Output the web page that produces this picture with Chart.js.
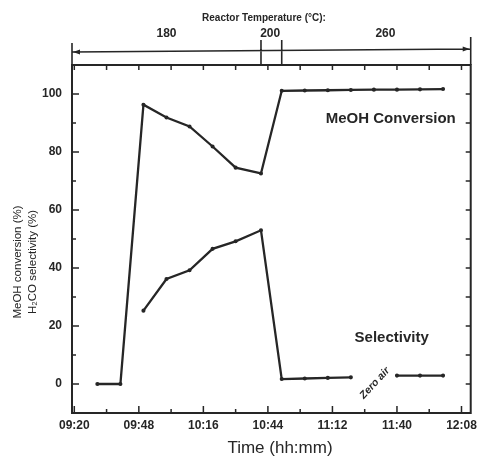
<!DOCTYPE html>
<html><head><meta charset="utf-8">
<script src="https://cdn.jsdelivr.net/npm/chart.js@4/dist/chart.umd.min.js"></script>
<style>html,body{margin:0;padding:0;background:#fff;}#wrap{width:482px;height:458px;}</style>
</head><body><div id="wrap"><canvas id="c" width="482" height="458"></canvas></div>
<script>
// time in minutes since 00:00
const times = [570,580,590,600,610,620,630,641,650,660,670,680,690,700,710,720];
const conversion = [0,0,96.3,91.9,88.8,81.9,74.6,72.6,101.1,101.2,101.3,101.4,101.5,101.5,101.6,101.7];
const selectivity = [null,null,25.3,36.2,39.2,46.6,49.2,53.0,1.7,1.9,2.1,2.3,null,2.9,2.9,2.9];
const xTickMinutes = [560,588,616,644,672,700,728];
const yTickValues = [0,20,40,60,80,100];
const tempLabels = ['180','200','260'];
const tempLabelMinutes = [600,645,695];
const tempBoxMinutes = [641,650];

const FONT = "'Liberation Sans', Arial, sans-serif";
const INK = '#262626';
const fmt = m => String(Math.floor(m/60)).padStart(2,'0') + ':' + String(m%60).padStart(2,'0');

const framePlugin = {
  id: 'frame',
  afterDraw(chart) {
    const {ctx, chartArea: a, scales: {x, y}} = chart;
    ctx.save();
    ctx.strokeStyle = INK; ctx.fillStyle = INK; ctx.lineWidth = 2;
    ctx.strokeRect(a.left, a.top, a.right - a.left, a.bottom - a.top);
    ctx.lineWidth = 1.5;
    ctx.beginPath();
    for (let m = 560; m <= 732; m += 14) {
      const px = x.getPixelForValue(m);
      const major = (m - 560) % 28 === 0;
      ctx.moveTo(px, a.bottom); ctx.lineTo(px, a.bottom - (major ? 7 : 4));
      ctx.moveTo(px, a.top); ctx.lineTo(px, a.top + 5);
    }
    for (let v = -10; v <= 110; v += 10) {
      const py = y.getPixelForValue(v);
      const major = v % 20 === 0;
      ctx.moveTo(a.left, py); ctx.lineTo(a.left + (major ? 7 : 4), py);
      ctx.moveTo(a.right, py); ctx.lineTo(a.right - 5, py);
    }
    ctx.stroke();

    // reactor temperature band
    const bandY = a.top - 14;
    ctx.lineWidth = 1.6;
    ctx.beginPath();
    ctx.moveTo(a.left, a.top - 22); ctx.lineTo(a.left, a.top);
    ctx.moveTo(a.right, a.top - 28); ctx.lineTo(a.right, a.top);
    ctx.moveTo(a.left, bandY + 1); ctx.lineTo(a.right, bandY - 2);
    const b0 = x.getPixelForValue(tempBoxMinutes[0]);
    const b1 = x.getPixelForValue(tempBoxMinutes[1]);
    ctx.moveTo(b0, a.top - 25); ctx.lineTo(b0, a.top);
    ctx.moveTo(b1, a.top - 25); ctx.lineTo(b1, a.top);
    ctx.stroke();
    ctx.beginPath();
    ctx.moveTo(a.left + 1, bandY + 1); ctx.lineTo(a.left + 8, bandY - 1.5); ctx.lineTo(a.left + 8, bandY + 3.5); ctx.closePath();
    ctx.moveTo(a.right - 1, bandY - 2); ctx.lineTo(a.right - 8, bandY - 4.5); ctx.lineTo(a.right - 8, bandY + 0.5); ctx.closePath();
    ctx.fill();

    ctx.textAlign = 'center'; ctx.textBaseline = 'middle';
    ctx.font = 'bold 10px ' + FONT;
    ctx.fillText('Reactor Temperature (°C):', 264, 18);
    ctx.font = 'bold 12px ' + FONT;
    tempLabels.forEach((t, i) => ctx.fillText(t, x.getPixelForValue(tempLabelMinutes[i]), a.top - 31));

    ctx.font = 'bold 15px ' + FONT;
    ctx.fillText('MeOH Conversion', x.getPixelForValue(697.3), y.getPixelForValue(91.3));
    ctx.fillText('Selectivity', x.getPixelForValue(697.7), y.getPixelForValue(15.9));
    ctx.save();
    ctx.translate(x.getPixelForValue(690.4), y.getPixelForValue(0.3));
    ctx.rotate(-47 * Math.PI / 180);
    ctx.font = 'bold italic 10.5px ' + FONT;
    ctx.fillText('Zero air', 0, 0);
    ctx.restore();

    ctx.font = '17px ' + FONT;
    ctx.fillText('Time (hh:mm)', 280, 448);
    ctx.save();
    ctx.translate(0, 262); ctx.rotate(-Math.PI / 2);
    ctx.font = '11.5px ' + FONT;
    ctx.fillText('MeOH conversion (%)', 0, 18);
    ctx.fillText('H\u2082CO selectivity (%)', 0, 33);
    ctx.restore();
    ctx.restore();
  }
};

const toPts = arr => times.map((t, i) => ({x: t, y: arr[i]}));
const lineStyle = {borderColor: INK, backgroundColor: INK, borderWidth: 2.3, pointRadius: 0.9, pointHoverRadius: 0.9, tension: 0, spanGaps: false};

new Chart(document.getElementById('c'), {
  type: 'line',
  data: { datasets: [
    Object.assign({label: 'MeOH conversion', data: toPts(conversion)}, lineStyle),
    Object.assign({label: 'H2CO selectivity', data: toPts(selectivity)}, lineStyle)
  ]},
  options: {
    responsive: false, animation: false, devicePixelRatio: 1,
    layout: {padding: {top: 65, right: 7, left: 0, bottom: 0}},
    plugins: {legend: {display: false}, tooltip: {enabled: false}},
    scales: {
      x: {
        type: 'linear', min: 559, max: 732,
        grid: {display: false, drawTicks: false}, border: {display: false},
        afterBuildTicks: s => { s.ticks = xTickMinutes.map(v => ({value: v})); },
        afterFit: s => { s.height = 45; },
        ticks: {callback: v => fmt(v), color: INK, padding: 5, maxRotation: 0, font: {family: FONT, size: 12, weight: 'bold'}}
      },
      y: {
        min: -10, max: 110,
        grid: {display: false, drawTicks: false}, border: {display: false},
        afterBuildTicks: s => { s.ticks = yTickValues.map(v => ({value: v})); },
        afterFit: s => { s.width = 72; },
        ticks: {color: INK, padding: 10, font: {family: FONT, size: 12, weight: 'bold'}}
      }
    }
  },
  plugins: [framePlugin]
});
</script></body></html>
